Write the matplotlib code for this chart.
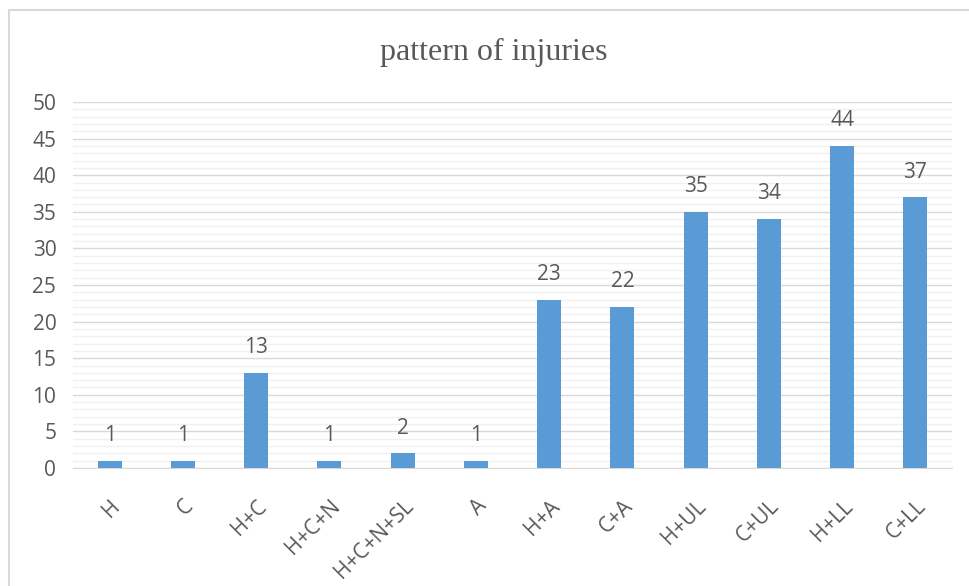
import numpy as np
import matplotlib.pyplot as plt
from matplotlib.patches import Rectangle

categories = ["H", "C", "H+C", "H+C+N", "H+C+N+SL", "A", "H+A", "C+A",
              "H+UL", "C+UL", "H+LL", "C+LL"]
counts = [1, 1, 13, 1, 2, 1, 23, 22, 35, 34, 44, 37]

bar_color = "#5B9BD5"
text_color = "#595959"

fig = plt.figure(figsize=(9.69, 5.86), dpi=100)
ax = fig.add_axes([73 / 969, 1 - 468 / 586, 879 / 969, 366 / 586])

# light frame around the chart
fig.patches.append(Rectangle((9 / 969, -0.1), 1.1, 1 - 10 / 586 + 0.1,
                             transform=fig.transFigure, fill=False,
                             edgecolor="#D9D9D9", linewidth=1.5))

x = np.arange(len(categories))
ax.bar(x, counts, width=0.33, color=bar_color, zorder=3)
for xi, v in zip(x, counts):
    ax.text(xi, v + 2.0, str(v), ha="center", va="bottom",
            fontsize=15, color=text_color, family="Open Sans")

ax.set_xlim(-0.5, len(categories) - 0.5)
ax.set_ylim(0, 50)
ax.set_yticks(np.arange(0, 51, 5))
ax.set_yticks(np.arange(0, 51, 1), minor=True)
ax.grid(axis="y", which="major", color="#D9D9D9", linewidth=1, zorder=0)
ax.grid(axis="y", which="minor", color="#F0F0F0", linewidth=1, zorder=0)
ax.set_xticks(x)
ax.set_xticklabels(categories, rotation=45, ha="right", rotation_mode="anchor")
ax.tick_params(axis="both", which="both", length=0, labelsize=15, labelcolor=text_color)
ax.tick_params(axis="y", pad=12)
ax.tick_params(axis="x", pad=20)
for lbl in ax.get_xticklabels() + ax.get_yticklabels():
    lbl.set_family("Open Sans")
for s in ["top", "right", "left"]:
    ax.spines[s].set_visible(False)
ax.spines["bottom"].set_color("#D9D9D9")

fig.text(494 / 969, 1 - 52 / 586, "pattern of injuries", ha="center", va="center",
         fontsize=23, color=text_color, family="Liberation Serif")

fig.savefig("out.png", dpi=100)
